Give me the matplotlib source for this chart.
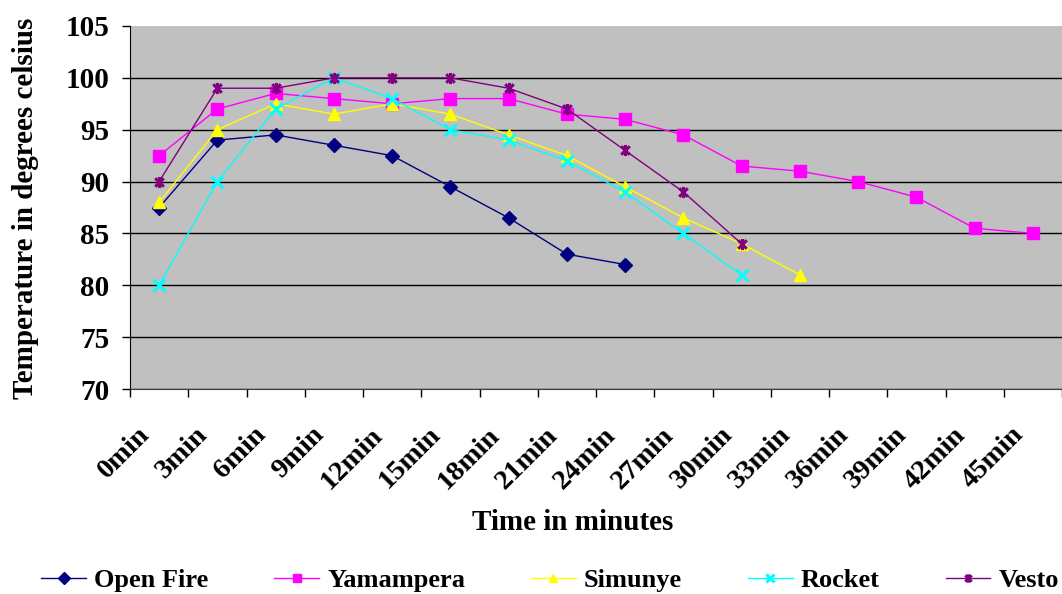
import matplotlib
matplotlib.use('Agg')
import matplotlib.pyplot as plt
import matplotlib.transforms as mtransforms
from matplotlib.path import Path
import numpy as np

# Données (température en °C toutes les 3 minutes)
minutes   = ['0min', '3min', '6min', '9min', '12min', '15min', '18min', '21min',
             '24min', '27min', '30min', '33min', '36min', '39min', '42min', '45min']
open_fire = [87.5, 94, 94.5, 93.5, 92.5, 89.5, 86.5, 83, 82]
yamampera = [92.5, 97, 98.5, 98, 97.5, 98, 98, 96.5, 96, 94.5, 91.5, 91, 90, 88.5, 85.5, 85]
simunye   = [88, 95, 97.5, 96.5, 97.5, 96.5, 94.5, 92.5, 89.5, 86.5, 84, 81]
rocket    = [80, 90, 97, 100, 98, 95, 94, 92, 89, 85, 81]
vesto     = [90, 99, 99, 100, 100, 100, 99, 97, 93, 89, 84]
y_ticks   = [70, 75, 80, 85, 90, 95, 100, 105]

# marqueur "étoile" façon Excel : croix + barre verticale
STAR = Path([(-1, -1), (1, 1), (-1, 1), (1, -1), (0, -1.3), (0, 1.3)],
            [Path.MOVETO, Path.LINETO] * 3)

series = [
    ('Open Fire', open_fire, '#000080', 'D', 7.5),
    ('Yamampera', yamampera, '#FF00FF', 's', 8),
    ('Simunye',   simunye,   '#FFFF00', '^', 8.5),
    ('Rocket',    rocket,    '#00FFFF', 'x', 8),
    ('Vesto',     vesto,     '#800080', STAR, 8),
]

plt.rcParams['font.family'] = ['Liberation Serif', 'DejaVu Serif']
plt.rcParams['font.weight'] = 'bold'

fig = plt.figure(figsize=(10.62, 5.94), dpi=100)
ax = fig.add_axes([130 / 1062, 1 - 389 / 594, 932 / 1062, 363 / 594])
ax.set_facecolor('#C0C0C0')

for nom, vals, couleur, marqueur, taille in series:
    x = np.arange(len(vals)) + 0.5
    is_line = marqueur in ('x',) or marqueur is STAR
    ax.plot(x, vals, color=couleur, linewidth=1.0, label=nom,
            marker=marqueur, markersize=taille,
            markerfacecolor=couleur, markeredgecolor=couleur,
            markeredgewidth=2.2 if is_line else 1.0)

ax.set_xlim(0, len(minutes))
ax.set_ylim(y_ticks[0], y_ticks[-1])
ax.set_yticks(y_ticks)
ax.yaxis.grid(True, color='black', linewidth=1.0)
ax.get_ygridlines()[-1].set_visible(False)
ax.set_axisbelow(True)

ax.set_xticks(np.arange(len(minutes) + 1))
ax.set_xticklabels([])
ax.set_xticks(np.arange(len(minutes)) + 0.5, minor=True)
ax.set_xticklabels(minutes, minor=True, rotation=45, ha='right',
                   rotation_mode='anchor', fontsize=20.5, fontweight='bold')
ax.tick_params(axis='x', which='major', direction='out', length=6, width=1)
ax.tick_params(axis='x', which='minor', length=0, pad=24)
ax.tick_params(axis='y', direction='out', length=6, width=1, labelsize=21, pad=9)
for lbl in ax.get_yticklabels():
    lbl.set_fontweight('bold')

decal = mtransforms.ScaledTranslation(-22 / 100, 0, fig.dpi_scale_trans)
for lbl in ax.xaxis.get_minorticklabels():
    lbl.set_transform(lbl.get_transform() + decal)

for cote in ('top', 'right'):
    ax.spines[cote].set_visible(False)
ax.spines['left'].set_color('black')
ax.spines['bottom'].set_color('#404040')

fig.text(573 / 1062, 1 - 522 / 594, 'Time in minutes',
         ha='center', va='center', fontsize=21, fontweight='bold')
fig.text(26 / 1062, 1 - 208 / 594, 'Temperature in degrees celsius',
         ha='center', va='center', rotation=90, fontsize=21, fontweight='bold')

fig.legend(loc='center', bbox_to_anchor=(550 / 1062, 1 - 580 / 594), ncol=5,
           frameon=False, handlelength=1.7, handletextpad=0.3,
           columnspacing=2.5, markerscale=0.75,
           prop={'weight': 'bold', 'size': 19})

fig.savefig('out.png', dpi=100)
plt.close(fig)
